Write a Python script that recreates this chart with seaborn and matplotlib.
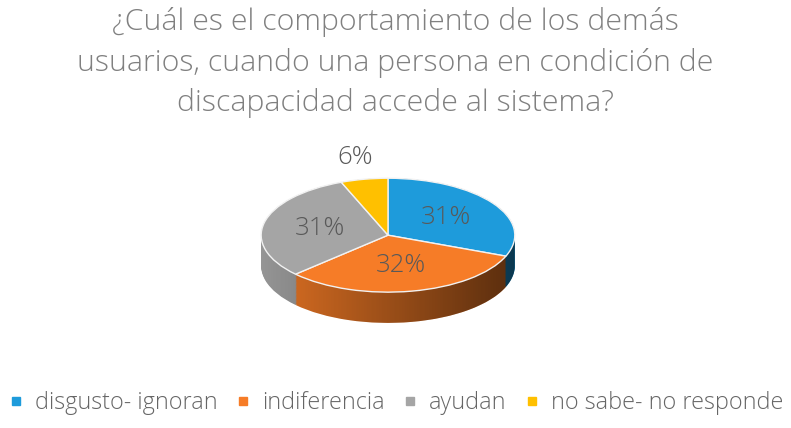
import numpy as np
import matplotlib
matplotlib.use('Agg')
import matplotlib.pyplot as plt
import matplotlib.colors as mcolors
from matplotlib.patches import Polygon
import seaborn as sns

# Datos del gráfico
categorias = ['disgusto- ignoran', 'indiferencia', 'ayudan', 'no sabe- no responde']
valores = [31, 32, 31, 6]
colores = ['#1E9BDB', '#F67C27', '#A5A5A5', '#FFC000']
titulo = '¿Cuál es el comportamiento de los demás\nusuarios, cuando una persona en condición de\ndiscapacidad accede al sistema?'

sns.set_theme(style='white')
plt.rcParams['font.family'] = ['Open Sans', 'DejaVu Sans']

fig = plt.figure(figsize=(7.91, 4.28), dpi=100)
ax = fig.add_axes([0.234, 0.211, 0.513, 0.479])
ax.axis('off')

profundidad = 0.54
oscuros = [tuple(np.array(mcolors.to_rgb(c)) * 0.9) for c in colores]

# lado del pastel 3D: pasteles apilados
for dd in np.linspace(profundidad, 0, 40):
    ax.pie(valores, colors=oscuros, startangle=90, counterclock=False,
           center=(0, -dd), radius=1, wedgeprops=dict(linewidth=0, zorder=1))

# degradado oscuro en el lado
grad = np.zeros((2, 256, 4))
grad[..., 3] = np.linspace(0, 0.6, 256)[None, :]
t1 = np.linspace(0, np.pi, 120)
t2 = np.linspace(np.pi, 2 * np.pi, 120)
contorno = np.vstack([np.column_stack([np.cos(t1), np.sin(t1)]),
                      np.column_stack([np.cos(t2), np.sin(t2) - profundidad])])
clip = Polygon(contorno, closed=True, transform=ax.transData, facecolor='none', edgecolor='none')
ax.add_patch(clip)
img = ax.imshow(grad, extent=(-1, 1, -1 - profundidad, 1), aspect='auto', zorder=2)
img.set_clip_path(clip)

# cara superior
wedges, textos, autotextos = ax.pie(
    valores, colors=colores, startangle=90, counterclock=False, radius=1,
    autopct='%.0f%%', pctdistance=0.55,
    wedgeprops=dict(linewidth=1, edgecolor='#F2F2F2', zorder=3),
    textprops=dict(color='#595959', fontsize=18.5, fontweight='light', zorder=5))

# la etiqueta pequeña va fuera del pastel
acum = np.cumsum(valores)
medio = np.deg2rad(90 - 360 * (acum[3] - valores[3] / 2) / sum(valores))
autotextos[3].set_position((1.39 * np.cos(medio), 1.39 * np.sin(medio)))

ax.set_aspect('auto')
ax.set_xlim(-1.6, 1.6)
ax.set_ylim(-1.8, 1.8)

fig.text(0.5, 1 - 7 / 428, titulo, ha='center', va='top', fontsize=21.8,
         fontweight='light', color='#808080', linespacing=1.46)

handles = [plt.Line2D([], [], marker='s', linestyle='', color=c, markersize=6) for c in colores]
fig.legend(handles, categorias, loc='center', bbox_to_anchor=(0.5, 0.058), ncol=4,
           frameon=False, labelcolor='#666666', handletextpad=0.45,
           columnspacing=0.75, handlelength=0.7,
           prop=dict(size=16.8, weight='light'))

plt.savefig('out.png', dpi=100)
